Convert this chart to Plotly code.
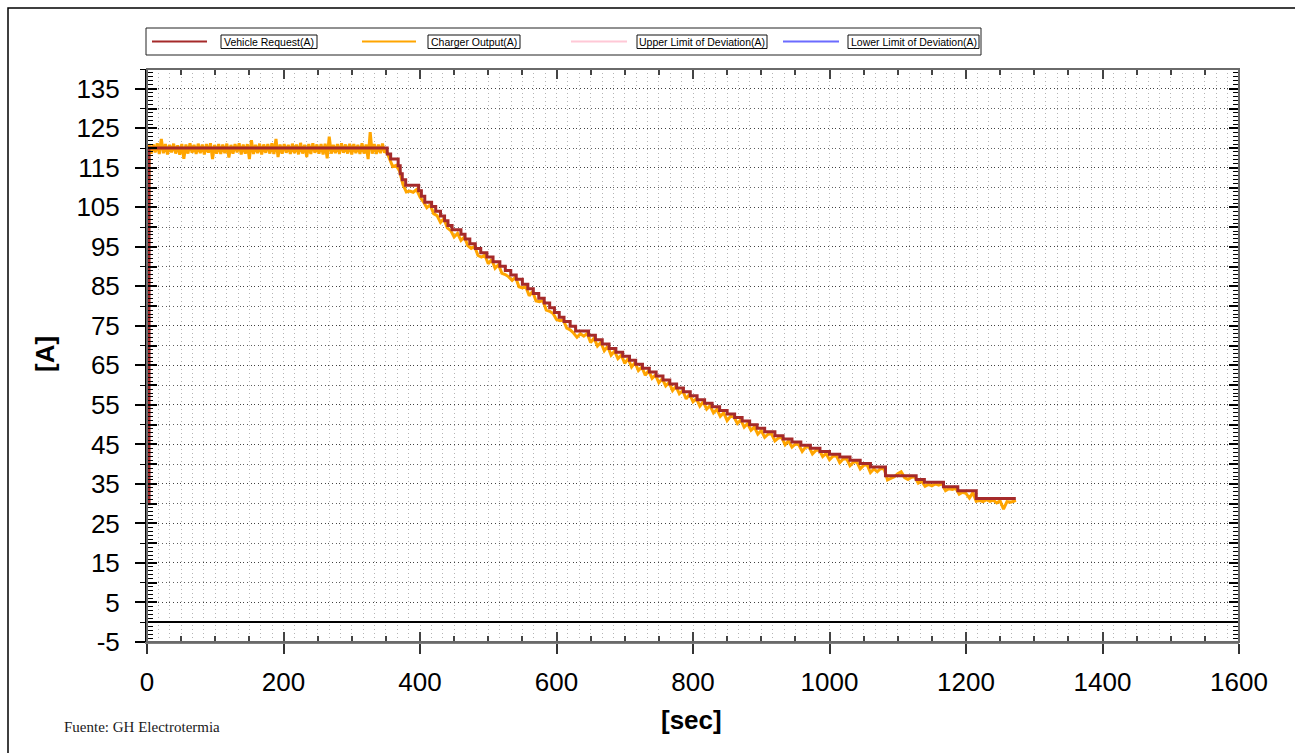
import plotly.graph_objects as go

# ---------------- data ----------------
# Vehicle request (A): step changes (time s, new level A)
request_t = [0, 3, 352, 357, 368, 371, 374, 379, 398, 402, 407, 417, 423, 430, 436, 441, 447,
             460, 466, 473, 481, 489, 498, 507, 517, 525, 533, 541, 550, 558, 566, 574, 582,
             590, 597, 604, 611, 620, 628, 647, 657, 667, 677, 687, 697, 707, 716, 726, 736,
             746, 756, 766, 776, 786, 796, 806, 817, 828, 839, 850, 861, 872, 883, 894, 905,
             920, 932, 945, 958, 972, 986, 1000, 1015, 1030, 1045, 1060, 1082, 1127, 1139,
             1167, 1188, 1215, 1273]
request_a = [30, 120, 118.5, 117.2, 115.5, 113.5, 112.0, 110.6, 109.2, 107.8, 106.3, 105.2, 104.0,
             102.8, 101.6, 100.4, 99.3, 98.2, 97.0, 95.8, 94.6, 93.5, 92.4, 91.2, 90.1, 89.0,
             87.9, 86.8, 85.5, 84.4, 83.2, 82.0, 80.8, 79.6, 78.4, 77.2, 76.1, 74.9, 73.7, 72.6,
             71.5, 70.4, 69.3, 68.3, 67.3, 66.3, 65.3, 64.3, 63.3, 62.3, 61.3, 60.3, 59.3, 58.3,
             57.3, 56.3, 55.4, 54.5, 53.6, 52.7, 51.8, 50.9, 50.0, 49.1, 48.2, 47.2, 46.4, 45.6,
             44.8, 44.0, 43.2, 42.5, 41.8, 41.0, 40.2, 39.3, 37.1, 36.1, 35.4, 34.3, 33.3, 31.3,
             31.3]

# Charger output (A): sampled readings
output_t = [0, 1, 2] + list(range(3, 349, 3)) + list(range(350, 1271, 5)) + [1273]
output_a = [30.5, 64, 96,
    121.0, 118.6, 120.9, 118.9, 121.2, 118.5, 122.3, 118.7, 121.0, 118.4,
    120.8, 118.9, 121.1, 118.6, 120.7, 118.3, 121.0, 117.3, 120.9, 118.6,
    121.2, 118.8, 120.8, 118.5, 121.1, 118.7, 120.9, 118.4, 121.0, 118.8,
    121.2, 117.2, 120.8, 118.6, 121.0, 118.5, 120.9, 118.7, 121.1, 117.6,
    120.8, 118.6, 121.0, 118.9, 121.2, 118.4, 120.9, 118.6, 121.0, 117.2,
    122.0, 118.5, 120.8, 118.7, 121.1, 118.4, 120.9, 118.8, 121.0, 118.6,
    121.2, 118.5, 122.3, 117.7, 120.9, 118.6, 121.0, 118.8, 120.8, 118.5,
    121.1, 118.7, 120.9, 118.4, 121.3, 118.6, 120.8, 117.7, 121.0, 118.5,
    121.2, 118.8, 120.9, 118.6, 121.0, 118.4, 121.1, 117.4, 122.9, 118.6,
    120.8, 118.7, 121.0, 118.5, 121.2, 118.8, 120.9, 118.6, 121.1, 118.4,
    121.0, 118.7, 120.8, 118.5, 121.2, 118.6, 120.9, 117.2, 124.0, 118.6,
    121.0, 118.5, 120.9, 118.7, 121.1, 118.8,
    119.6, 117.4, 115.3, 115.6, 114.2, 110.8, 108.9, 109.1, 108.8, 109.5,
    107.6, 106.4, 104.9, 105.6, 103.4, 102.9, 101.2, 102.1, 99.8, 99.1,
    97.5, 98.4, 96.6, 97.5, 95.3, 94.6, 95.1, 92.8, 92.4, 92.9,
    90.7, 91.8, 89.6, 90.5, 88.3, 88.0, 87.4, 86.5, 87.3, 84.9,
    84.6, 84.9, 82.6, 83.7, 81.3, 81.1, 81.4, 79.0, 78.7, 78.1,
    76.6, 76.3, 76.5, 74.4, 74.0, 73.2, 72.1, 73.0, 72.4, 73.1,
    70.8, 71.9, 69.9, 70.8, 68.7, 69.8, 67.6, 68.6, 66.7, 67.6,
    65.5, 66.7, 64.6, 65.7, 63.7, 64.6, 62.5, 63.7, 61.7, 62.6,
    60.6, 61.6, 59.8, 60.7, 58.6, 59.7, 57.8, 58.6, 56.5, 57.7,
    55.8, 56.6, 54.7, 55.8, 53.9, 54.8, 53.0, 53.9, 52.1, 53.0,
    51.0, 52.1, 51.9, 50.3, 51.2, 49.4, 50.3, 48.6, 49.4, 47.6,
    48.5, 46.8, 47.6, 47.7, 45.9, 46.6, 46.8, 44.9, 45.9, 44.3,
    45.1, 44.9, 43.2, 44.3, 44.4, 42.6, 43.5, 43.6, 41.9, 42.7,
    41.1, 42.0, 42.1, 40.4, 41.3, 41.4, 39.6, 40.5, 40.6, 38.8,
    39.7, 39.9, 37.9, 38.8, 38.1, 38.9, 38.8, 36.0, 36.5, 36.8,
    37.6, 38.1, 36.6, 36.1, 36.7, 36.8, 35.2, 35.7, 34.4, 34.9,
    34.5, 35.0, 34.7, 35.1, 33.3, 33.8, 33.6, 33.9, 32.4, 32.9,
    32.6, 31.4, 32.8, 30.6, 30.8, 30.5, 31.0, 30.6, 30.9, 30.2,
    30.7, 28.6, 30.5, 30.4, 30.6,
    30.9]
assert len(output_t) == len(output_a)

legend_names = ["Vehicle Request(A)", "Charger Output(A)",
                "Upper Limit of Deviation(A)", "Lower Limit of Deviation(A)"]
legend_colors = ["#A52A2A", "#FFA500", "#FFC8D6", "#6B6BFF"]

y_ticks_labels = list(range(-5, 140, 10))
x_ticks_labels = list(range(0, 1601, 200))

# ---------------- layout helpers (pixel -> paper) ----------------
W, H = 1295, 753
ML, MR, MT, MB = 147, 56, 69, 111
PW = W - ML - MR
PH = H - MT - MB


def px(x):
    return (x - ML) / PW


def py(y):
    return (H - MB - y) / PH


fig = go.Figure()
fig.add_trace(go.Scatter(x=output_t, y=output_a, mode="lines", name=legend_names[1],
                         line=dict(color=legend_colors[1], width=3), showlegend=False))
fig.add_trace(go.Scatter(x=request_t, y=request_a, mode="lines", name=legend_names[0],
                         line=dict(color=legend_colors[0], width=3, shape="hv"), showlegend=False))
# helper trace so that overlay axes (extra ticks) are drawn
fig.add_trace(go.Scatter(x=[None], y=[None], xaxis="x2", yaxis="y2", showlegend=False,
                         hoverinfo="skip"))

vdots = "1px,3px"
hdots = "1px,2.7px"
tickfont = dict(family="Liberation Sans, Arial, sans-serif", size=26, color="black")

fig.update_layout(
    width=W, height=H,
    margin=dict(l=ML, r=MR, t=MT, b=MB, pad=0),
    paper_bgcolor="white", plot_bgcolor="white",
    showlegend=False,
    xaxis=dict(range=[0, 1600], tickmode="array", tickvals=x_ticks_labels,
               ticktext=[str(v) for v in x_ticks_labels],
               ticks="outside", ticklen=10, tickwidth=1.5, tickcolor="#333",
               showline=True, linecolor="#808080", linewidth=2,
               showgrid=True, gridcolor="#b4b4b4", griddash=vdots, gridwidth=1,
               zeroline=False, tickfont=tickfont, ticklabelstandoff=6,
               minor=dict(tick0=0, dtick=50 / 3, ticks="", showgrid=True,
                          gridcolor="#b4b4b4", griddash=vdots, gridwidth=1)),
    xaxis2=dict(range=[0, 1600], overlaying="x", anchor="y", side="bottom",
                tick0=0, dtick=200, ticks="inside", ticklen=10, tickwidth=1.5,
                tickcolor="#444", mirror="ticks", showticklabels=False,
                showline=False, showgrid=False, zeroline=False,
                minor=dict(dtick=50, ticks="inside", ticklen=6, tickwidth=1.5,
                           tickcolor="#444", showgrid=False)),
    yaxis=dict(range=[-5, 140], tickmode="array", tickvals=y_ticks_labels,
               ticktext=[str(v) for v in y_ticks_labels],
               ticks="outside", ticklen=10, tickwidth=1.5, tickcolor="black",
               showline=True, linecolor="black", linewidth=2,
               showgrid=True, gridcolor="#404040", griddash=hdots, gridwidth=1,
               zeroline=True, zerolinecolor="black", zerolinewidth=1.5,
               tickfont=tickfont, ticklabelstandoff=10,
               minor=dict(tick0=-5, dtick=5, ticks="outside", ticklen=5, tickwidth=1.2,
                          tickcolor="black", showgrid=True, gridcolor="#606060",
                          griddash=hdots, gridwidth=1)),
    yaxis2=dict(range=[-5, 140], overlaying="y", anchor="x", side="left",
                tick0=-5, dtick=5, ticks="inside", ticklen=10, tickwidth=1.5,
                tickcolor="black", mirror="ticks", showticklabels=False,
                showline=False, showgrid=False, zeroline=False,
                minor=dict(dtick=1, ticks="inside", ticklen=6, tickwidth=1.2,
                           tickcolor="black", showgrid=False)),
)

shapes = []
# outer figure frame
shapes.append(dict(type="rect", xref="paper", yref="paper", x0=px(8), x1=px(1310),
                   y0=py(8), y1=py(770), line=dict(color="black", width=1.5)))
# plot frame (top / right)
shapes.append(dict(type="rect", xref="paper", yref="paper", x0=0, x1=1, y0=0, y1=1,
                   line=dict(color="#6a6a6a", width=2), layer="above"))
# legend outer box
shapes.append(dict(type="rect", xref="paper", yref="paper", x0=px(146), x1=px(981),
                   y0=py(28), y1=py(55), line=dict(color="#222", width=1)))

legend_pos = [(152, 207, 221, 317), (362, 416, 428, 520),
              (571, 627, 637, 767), (783, 839, 848, 979)]
annotations = []
for name, color, (s0, s1, b0, b1) in zip(legend_names, legend_colors, legend_pos):
    shapes.append(dict(type="line", xref="paper", yref="paper", x0=px(s0), x1=px(s1),
                       y0=py(41.5), y1=py(41.5), line=dict(color=color, width=2)))
    shapes.append(dict(type="rect", xref="paper", yref="paper", x0=px(b0), x1=px(b1),
                       y0=py(35), y1=py(48.5), line=dict(color="#111", width=1)))
    annotations.append(dict(xref="paper", yref="paper", x=px((b0 + b1) / 2), y=py(41.8),
                            text=name, showarrow=False, xanchor="center", yanchor="middle",
                            font=dict(family="Liberation Sans Narrow, Arial Narrow, Liberation Sans, Arial",
                                      size=10.5, color="black")))

annotations.append(dict(xref="paper", yref="paper", x=px(45), y=py(354), text="[A]",
                        textangle=-90, showarrow=False, xanchor="center", yanchor="middle",
                        font=dict(family="Liberation Sans, Arial", size=26, color="black",
                                  weight="bold")))
annotations.append(dict(xref="paper", yref="paper", x=px(691), y=py(720), text="[sec]",
                        showarrow=False, xanchor="center", yanchor="middle",
                        font=dict(family="Liberation Sans, Arial", size=26, color="black",
                                  weight="bold")))
annotations.append(dict(xref="paper", yref="paper", x=px(62), y=py(727),
                        text="Fuente: GH Electrotermia", showarrow=False,
                        xanchor="left", yanchor="middle",
                        font=dict(family="Liberation Serif, Times New Roman, serif", size=15,
                                  color="#1a1a1a")))

fig.update_layout(shapes=shapes, annotations=annotations)
fig.write_html("out.html")
